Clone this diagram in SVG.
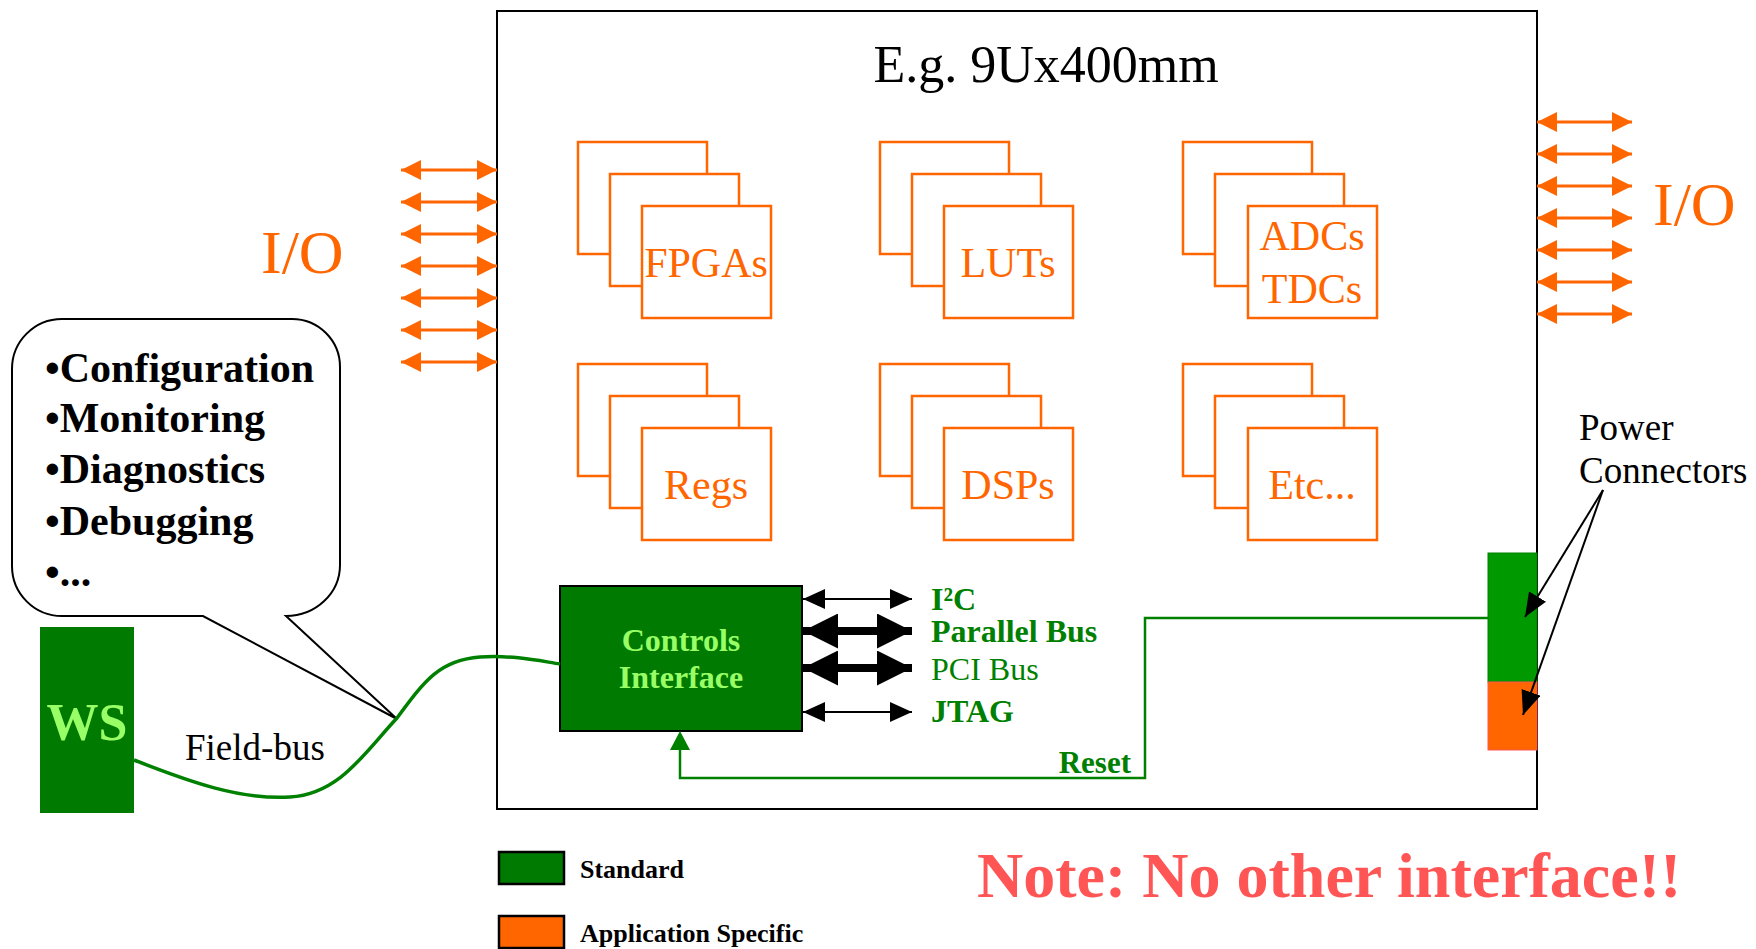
<svg xmlns="http://www.w3.org/2000/svg" width="1756" height="949" viewBox="0 0 1756 949">
<style>
.t{font-family:"Liberation Serif","Times New Roman",serif}
.b{font-weight:bold}
.orn{fill:#FF6600}
.comp{fill:#fff;stroke:#FF6600;stroke-width:2.5}
.io{stroke:#FF6600;stroke-width:3;fill:none;marker-start:url(#oh);marker-end:url(#oh)}
.gl{fill:#008000}
.bg{fill:#99FF66}
</style>
<defs>
<marker id="oh" markerUnits="userSpaceOnUse" markerWidth="20" markerHeight="20" refX="20" refY="10" orient="auto-start-reverse" viewBox="0 0 20 20"><path d="M0,0 L20,10 L0,20 z" fill="#FF6600"/></marker>
<marker id="kh" markerUnits="userSpaceOnUse" markerWidth="22" markerHeight="20" refX="22" refY="10" orient="auto-start-reverse" viewBox="0 0 22 20"><path d="M0,0 L22,10 L0,20 z" fill="#000"/></marker>
<marker id="kb" markerUnits="userSpaceOnUse" markerWidth="35" markerHeight="35" refX="35" refY="17.5" orient="auto-start-reverse" viewBox="0 0 35 35"><path d="M0,0 L35,17.5 L0,35 z" fill="#000"/></marker>
<marker id="pa" markerUnits="userSpaceOnUse" markerWidth="24" markerHeight="20" refX="24" refY="10" orient="auto" viewBox="0 0 24 20"><path d="M0,0 L24,10 L0,20 z" fill="#000"/></marker>
</defs>
<rect width="1756" height="949" fill="#fff"/>

<g id="crate">
<rect x="497" y="11" width="1040" height="798" fill="none" stroke="#000" stroke-width="2"/>
<text class="t" x="1046" y="82" font-size="52" text-anchor="middle">E.g. 9Ux400mm</text>
</g>

<g id="fpgas">
<rect class="comp" x="578" y="142" width="129" height="112"/>
<rect class="comp" x="610" y="174" width="129" height="112"/>
<rect class="comp" x="642" y="206" width="129" height="112"/>
<text class="t orn" x="706" y="277" font-size="42" text-anchor="middle">FPGAs</text>
</g>
<g id="luts">
<rect class="comp" x="880" y="142" width="129" height="112"/>
<rect class="comp" x="912" y="174" width="129" height="112"/>
<rect class="comp" x="944" y="206" width="129" height="112"/>
<text class="t orn" x="1008" y="277" font-size="42" text-anchor="middle">LUTs</text>
</g>
<g id="adcs">
<rect class="comp" x="1183" y="142" width="129" height="112"/>
<rect class="comp" x="1215" y="174" width="129" height="112"/>
<rect class="comp" x="1248" y="206" width="129" height="112"/>
<text class="t orn" x="1312" y="250" font-size="42" text-anchor="middle">ADCs</text>
<text class="t orn" x="1312" y="303" font-size="42" text-anchor="middle">TDCs</text>
</g>
<g id="regs">
<rect class="comp" x="578" y="364" width="129" height="112"/>
<rect class="comp" x="610" y="396" width="129" height="112"/>
<rect class="comp" x="642" y="428" width="129" height="112"/>
<text class="t orn" x="706" y="499" font-size="42" text-anchor="middle">Regs</text>
</g>
<g id="dsps">
<rect class="comp" x="880" y="364" width="129" height="112"/>
<rect class="comp" x="912" y="396" width="129" height="112"/>
<rect class="comp" x="944" y="428" width="129" height="112"/>
<text class="t orn" x="1008" y="499" font-size="42" text-anchor="middle">DSPs</text>
</g>
<g id="etc">
<rect class="comp" x="1183" y="364" width="129" height="112"/>
<rect class="comp" x="1215" y="396" width="129" height="112"/>
<rect class="comp" x="1248" y="428" width="129" height="112"/>
<text class="t orn" x="1312" y="499" font-size="42" text-anchor="middle">Etc...</text>
</g>

<g id="io-left">
<text class="t orn" x="261" y="273" font-size="62">I/O</text>
</g>
<g id="io-right">
<text class="t orn" x="1653" y="225" font-size="62">I/O</text>
</g>

<g id="controls">
<rect x="560" y="586" width="242" height="145" fill="#007A00" stroke="#000" stroke-width="2"/>
<text class="t b bg" x="681" y="651" font-size="32" text-anchor="middle">Controls</text>
<text class="t b bg" x="681" y="688" font-size="32" text-anchor="middle">Interface</text>
</g>

<g id="bus-labels">
<text class="t b gl" x="931" y="610" font-size="32">I²C</text>
<text class="t b gl" x="931" y="642" font-size="32">Parallel Bus</text>
<text class="t gl" x="931" y="680" font-size="32">PCI Bus</text>
<text class="t b gl" x="931" y="722" font-size="32">JTAG</text>
<text class="t b gl" x="1131" y="773" font-size="31" text-anchor="end">Reset</text>
</g>

<g id="bubble">
<path d="M62,319 H292 A48,48 0 0 1 340,367 V565 A54,51 0 0 1 286,616 L397,719 L203,616 H62 A50,50 0 0 1 12,566 V369 A50,50 0 0 1 62,319 Z" fill="#fff" stroke="#000" stroke-width="2"/>
<g class="t b" font-size="42">
<text x="45" y="382">•Configuration</text>
<text x="45" y="432">•Monitoring</text>
<text x="45" y="483">•Diagnostics</text>
<text x="45" y="535">•Debugging</text>
<text x="45" y="586">•...</text>
</g>
</g>

<g id="ws">
<rect x="40" y="627" width="94" height="186" fill="#007A00"/>
<text class="t b bg" x="87" y="740" font-size="52" text-anchor="middle">WS</text>
</g>

<g id="fieldbus-label">
<text class="t" x="185" y="760" font-size="37">Field-bus</text>
</g>

<g id="power">
<rect x="1488" y="553" width="49" height="129" fill="#009900" stroke="#008000" stroke-width="1"/>
<rect x="1488" y="682" width="49" height="68" fill="#FF6600" stroke="#FF5555" stroke-width="1"/>
<text class="t" x="1579" y="440" font-size="37">Power</text>
<text class="t" x="1579" y="483" font-size="37">Connectors</text>
</g>

<g id="legend">
<rect x="499" y="852" width="65" height="32" fill="#007A00" stroke="#000" stroke-width="2.5"/>
<rect x="499" y="916" width="65" height="32" fill="#FF6600" stroke="#000" stroke-width="2.5"/>
<text class="t b" x="580" y="878" font-size="26">Standard</text>
<text class="t b" x="580" y="942" font-size="26">Application Specific</text>
</g>

<g id="note">
<text class="t b" x="977" y="897" font-size="64" fill="#FF5555">Note: No other interface!!</text>
</g>

<g id="connectors">
<line class="io" x1="401" y1="170" x2="497" y2="170"/>
<line class="io" x1="401" y1="202" x2="497" y2="202"/>
<line class="io" x1="401" y1="234" x2="497" y2="234"/>
<line class="io" x1="401" y1="266" x2="497" y2="266"/>
<line class="io" x1="401" y1="298" x2="497" y2="298"/>
<line class="io" x1="401" y1="330" x2="497" y2="330"/>
<line class="io" x1="401" y1="362" x2="497" y2="362"/>
<line class="io" x1="1537" y1="122" x2="1632" y2="122"/>
<line class="io" x1="1537" y1="154" x2="1632" y2="154"/>
<line class="io" x1="1537" y1="186" x2="1632" y2="186"/>
<line class="io" x1="1537" y1="218" x2="1632" y2="218"/>
<line class="io" x1="1537" y1="250" x2="1632" y2="250"/>
<line class="io" x1="1537" y1="282" x2="1632" y2="282"/>
<line class="io" x1="1537" y1="314" x2="1632" y2="314"/>

<line x1="803" y1="599" x2="912" y2="599" stroke="#000" stroke-width="2" marker-start="url(#kh)" marker-end="url(#kh)"/>
<line x1="803" y1="631" x2="912" y2="631" stroke="#000" stroke-width="8" marker-start="url(#kb)" marker-end="url(#kb)"/>
<line x1="803" y1="668" x2="912" y2="668" stroke="#000" stroke-width="8" marker-start="url(#kb)" marker-end="url(#kb)"/>
<line x1="803" y1="712" x2="912" y2="712" stroke="#000" stroke-width="2" marker-start="url(#kh)" marker-end="url(#kh)"/>

<path d="M134,760 C190,782 240,800 290,797 C340,794 365,752 397,718 C425,680 440,660 480,657 C515,655 540,661 560,664" fill="none" stroke="#008000" stroke-width="3.5"/>

<path d="M1488,618 H1145 V778 H680 V750" fill="none" stroke="#008000" stroke-width="2.5"/>
<path d="M680,731 L690,750 L670,750 Z" fill="#008000"/>

<line x1="1603" y1="490" x2="1525" y2="617" stroke="#000" stroke-width="2" marker-end="url(#pa)"/>
<line x1="1603" y1="490" x2="1523" y2="715" stroke="#000" stroke-width="2" marker-end="url(#pa)"/>
</g>
</svg>
